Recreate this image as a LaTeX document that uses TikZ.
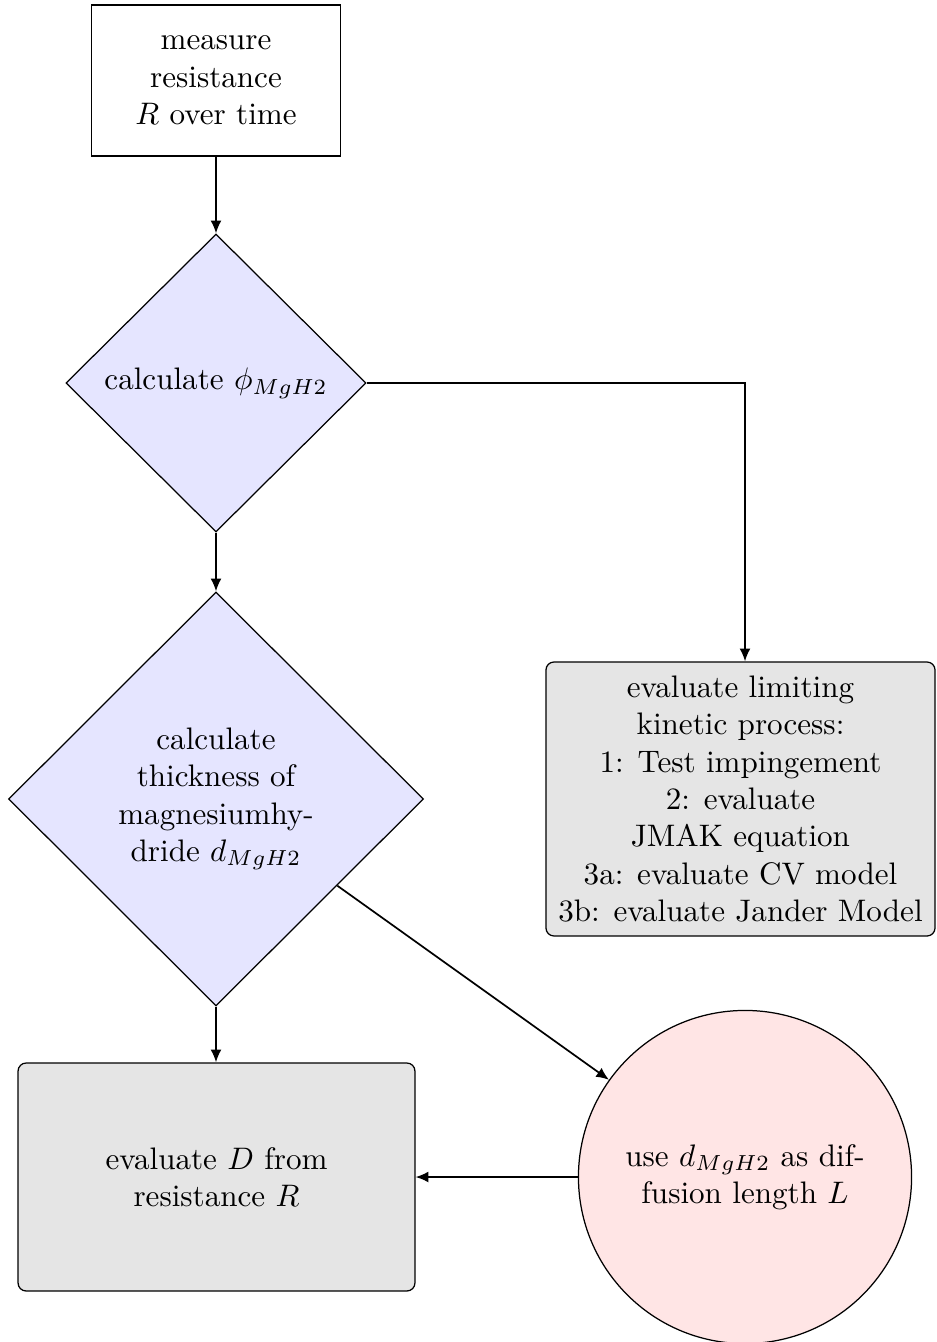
\documentclass[tikz,border=0pt]{standalone}
\usetikzlibrary{shapes.geometric,arrows.meta,calc}
\begin{document}
\begin{tikzpicture}[x=0.3215pt,y=-0.3215pt,
  conn/.style={line width=0.55pt,-{Latex[length=4.1pt,width=3.5pt]}},
  plainbox/.style={draw,fill=white,rectangle,align=center,minimum width=80.1pt,minimum height=48.6pt,inner sep=2pt},
  decide/.style={draw,diamond,fill=blue!10,align=center,inner sep=1pt},
  greybox/.style={draw,rectangle,rounded corners=2.6pt,fill=black!10,align=center,inner sep=2pt},
  roundnode/.style={draw,circle,fill=red!10,align=center,inner sep=0pt}]
\useasboundingbox (0,0) rectangle (936,1342);
\node[plainbox] (top) at (216,80.5) {measure\\resistance\\$R$ over time};
\node[decide,minimum width=96.5pt,minimum height=95.8pt] (d1) at (216,383) {calculate $\phi_{MgH2}$};
\node[decide,minimum width=133.4pt,minimum height=133.1pt] (d2) at (216,799) {calculate\\thickness of\\magnesiumhy-\\dride $d_{MgH2}$};
\node[greybox,minimum width=127.6pt,minimum height=73.3pt] (bl) at (216.5,1177) {evaluate $D$ from\\resistance $R$};
\node[roundnode,minimum size=107.1pt] (circ) at (745,1177) {use $d_{MgH2}$ as dif-\\fusion length $L$};
\node[greybox,minimum width=125.1pt,minimum height=88.1pt] (rbox) at (740.5,799) {evaluate limiting\\kinetic process:\\1: Test impingement\\2: evaluate\\JMAK equation\\3a: evaluate CV model\\3b: evaluate Jander Model};
\draw[conn] (top.south) -- (d1.north);
\draw[conn] (d1.east) -| (rbox.north -| circ.north);
\draw[conn] (d1.south) -- (d2.north);
\draw[conn] (d2.south) -- (d2.south |- bl.north);
\draw[conn] (d2) -- (circ);
\draw[conn] (circ.west) -- (bl.east);
\end{tikzpicture}
\end{document}
